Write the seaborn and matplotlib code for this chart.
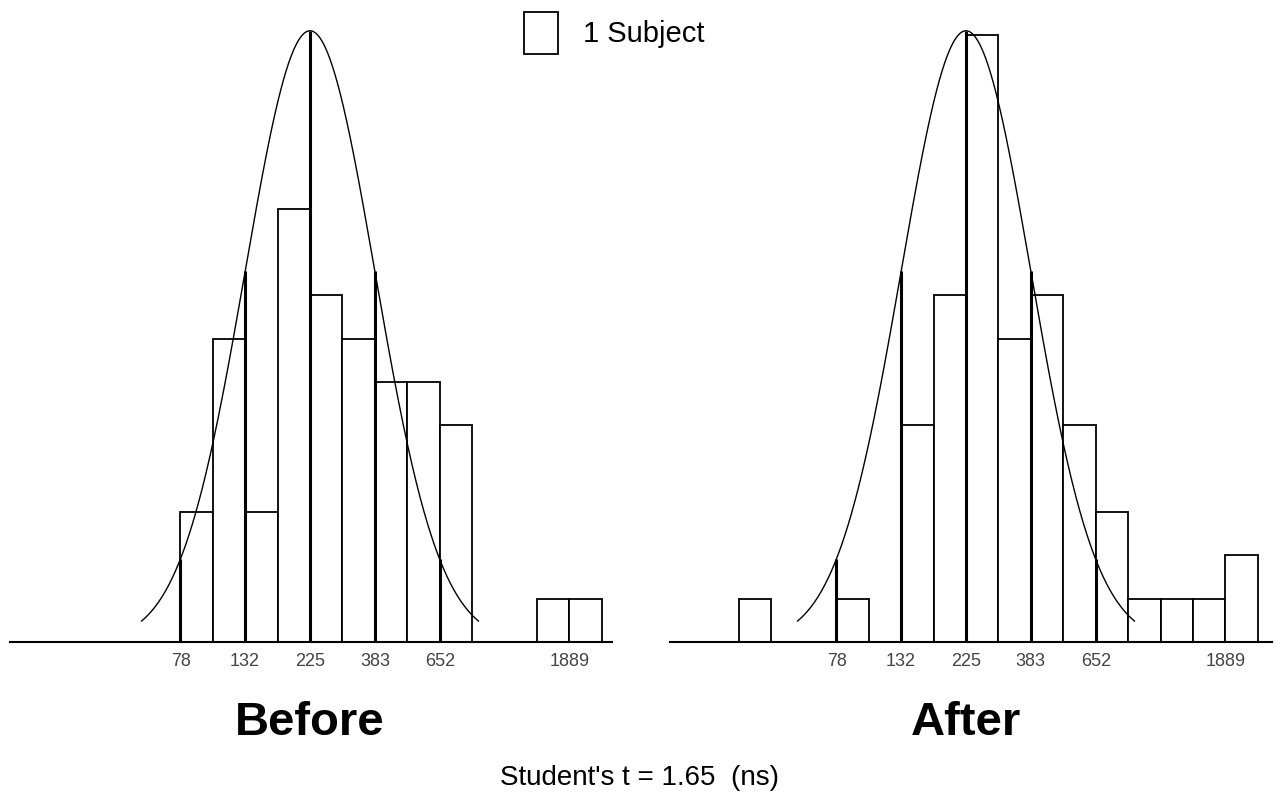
import numpy as np
import pandas as pd
import matplotlib
matplotlib.use("Agg")
import matplotlib.pyplot as plt
from matplotlib.patches import Patch
import seaborn as sns

# values (log-normal histograms, bins are half an SD wide)
geo_mean = 225
log_sd = 0.231
bin_index = list(range(-7, 9))
before_counts = [0, 0, 0, 3, 7, 3, 10, 8, 7, 6, 6, 5, 0, 0, 1, 1]
after_counts = [1, 0, 0, 1, 0, 5, 8, 14, 7, 8, 5, 3, 1, 1, 1, 2]
tick_values = [78, 132, 225, 383, 652, 1889]
tick_labels = ["78", "132", "225", "383", "652", "1889"]
curve_peak = 14.1
sd_marks = [-2, -1, 0, 1, 2]
panel_titles = ["Before", "After"]
t_text = "Student's t = 1.65  (ns)"
legend_label = "1 Subject"

sns.set_style("white")
plt.rcParams["font.family"] = ["Liberation Sans", "DejaVu Sans"]
plt.rcParams["text.color"] = "black"

log_mean = np.log10(geo_mean)
half = log_sd / 2
edges = log_mean + half * np.arange(bin_index[0], bin_index[-1] + 2)
centers = (edges[:-1] + edges[1:]) / 2

W, H = 1278, 793
fig = plt.figure(figsize=(W / 100, H / 100), dpi=100)
ax_b = fig.add_axes([10 / W, 151 / H, 602 / W, 642 / H])
ax_a = fig.add_axes([670 / W, 151 / H, 602 / W, 642 / H])

px_per_log = 280.7
unit_px = 43.35

xs = np.linspace(log_mean - 2.6 * log_sd, log_mean + 2.6 * log_sd, 400)
curve = curve_peak * np.exp(-0.5 * ((xs - log_mean) / log_sd) ** 2)

panels = [(ax_b, before_counts, 1.2834, 310), (ax_a, after_counts, 1.2977, 966)]
for (ax, counts, left, cx), title in zip(panels, panel_titles):
    df = pd.DataFrame({"logval": centers, "n": counts})
    sns.histplot(data=df, x="logval", weights="n", bins=list(edges), ax=ax,
                 color="white", edgecolor="black", linewidth=1.3, alpha=1)
    ax.plot(xs, curve, color="black", lw=1.0)
    for k in sd_marks:
        xv = log_mean + k * log_sd
        ax.vlines(xv, 0, curve_peak * np.exp(-0.5 * k * k), color="black", lw=2.2)

    ax.set_xlim(left, left + 602 / px_per_log)
    ax.set_ylim(0, 642 / unit_px)
    ax.set_xticks(np.log10(tick_values))
    ax.set_xticklabels(tick_labels, fontsize=13, color="#444444")
    ax.tick_params(axis="x", direction="out", length=5, width=1.2, color="black", pad=3)
    ax.set_yticks([])
    ax.set_xlabel("")
    ax.set_ylabel("")
    for s in ["top", "left", "right"]:
        ax.spines[s].set_visible(False)
    ax.spines["bottom"].set_linewidth(1.5)
    ax.spines["bottom"].set_color("black")
    ax.patch.set_alpha(0)

    fig.text(cx / W, 1 - 735 / H, title, ha="center", va="baseline",
             fontsize=34, fontweight="bold", color="black")

fig.text(640 / W, 1 - 785 / H, t_text, ha="center", va="baseline",
         fontsize=20, color="black")

fig.legend(handles=[Patch(facecolor="white", edgecolor="black", linewidth=1.3)],
           labels=[legend_label], loc="upper left",
           bbox_to_anchor=(524 / W, 1 - 12 / H), frameon=False, fontsize=21,
           handlelength=1.17, handleheight=1.85, handletextpad=0.85,
           borderpad=0, borderaxespad=0, labelcolor="black")

fig.savefig("out.png", dpi=100)
